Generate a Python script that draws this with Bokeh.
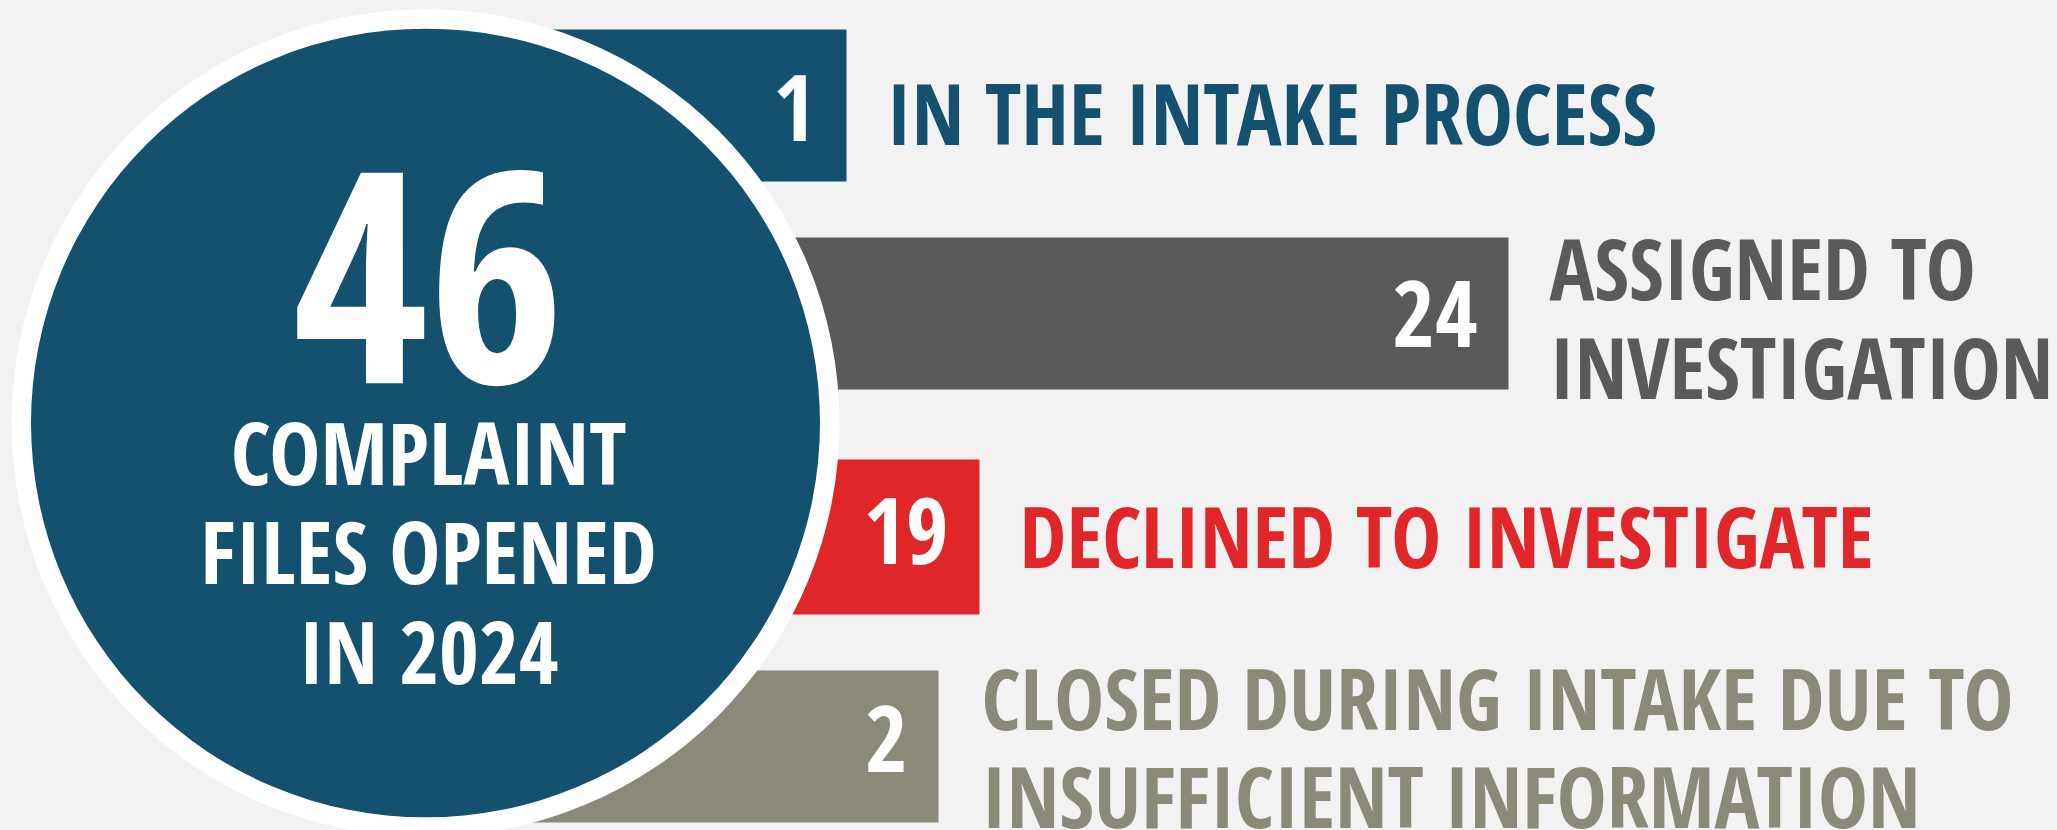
from bokeh.plotting import figure
from bokeh.models import Range1d
from bokeh.core.properties import value
from bokeh.embed import file_html
from bokeh.resources import INLINE

# ---- data ----
total_files = 46
total_caption = ["COMPLAINT", "FILES OPENED", "IN 2024"]
counts = [1, 24, 19, 2]
category_lines = [
    ["IN THE INTAKE PROCESS"],
    ["ASSIGNED TO", "INVESTIGATION"],
    ["DECLINED TO INVESTIGATE"],
    ["CLOSED DURING INTAKE DUE TO", "INSUFFICIENT INFORMATION"],
]

# ---- layout / style (pixel-like canvas units, y grows downward) ----
colors = ["#13516E", "#5A5A5A", "#E1262A", "#8B8A7A"]
bar_top = [29, 237, 459, 670]
bar_bottom = [181, 389, 614, 822]
bar_right = [846, 1508, 979, 938]
bar_left = 420
num_pad = 31                       # gap between count and bar end
num_base = [141, 347, 564, 772]    # baselines of counts
lab_left = [886, 1549, 1019, 981]  # left edge of category labels
lab_base = [[142], [297, 396], [565], [727, 825]]
circle_cx, circle_cy = 425, 422.5
ring_r, disc_r = 414, 394.5
cap_cx = 428
total_base = 383
caption_base = [482, 581, 681]
FONT = value("Open Sans Condensed")
BG = "#F2F2F2"
SHIFT = 0.36  # renderer baseline correction, fraction of font size

W, H = 2057, 830
p = figure(width=W, height=H, output_backend="svg", toolbar_location=None,
           x_range=Range1d(0, W), y_range=Range1d(H, 0),
           min_border=0, background_fill_color=BG, border_fill_color=BG)
p.axis.visible = False
p.grid.visible = False
p.outline_line_color = None

p.quad(left=[bar_left] * len(counts), right=bar_right, top=bar_top, bottom=bar_bottom,
       fill_color=colors, line_color=None)

p.circle(x=[circle_cx], y=[circle_cy], radius=ring_r, fill_color="white", line_color=None)
p.circle(x=[circle_cx], y=[circle_cy], radius=disc_r, fill_color="#13516E", line_color=None)


def txt(x, y, t, size, color, align):
    # one glyph per text item
    p.text(x=[x], y=[y - SHIFT * size], text=[t], text_font=FONT,
           text_font_style="bold", text_font_size=value(f"{size}px"), text_color=color,
           text_align=align, text_baseline="alphabetic")


txt(cap_cx, total_base, str(total_files), 295, "white", "center")
for t, yb in zip(total_caption, caption_base):
    txt(cap_cx, yb, t, 86, "white", "center")

for i, c in enumerate(counts):
    txt(bar_right[i] - num_pad, num_base[i], str(c), 92, "white", "right")
    for j, ln in enumerate(category_lines[i]):
        txt(lab_left[i], lab_base[i][j], ln, 84, colors[i], "left")

html = file_html(p, INLINE)
html = html.replace("<body>", '<body style="background:#F2F2F2;margin:0;">')
open("out.html", "w").write(html)
